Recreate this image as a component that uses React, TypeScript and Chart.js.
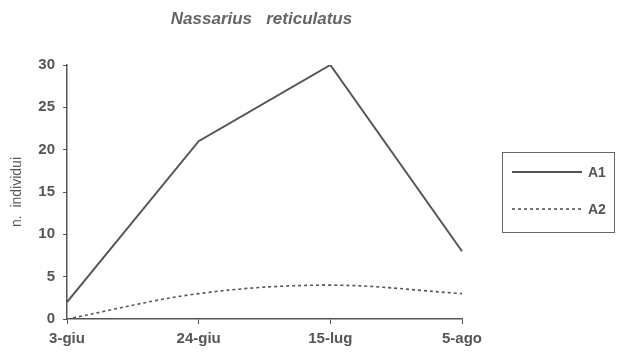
import React, { useEffect, useRef } from "react";
import { Chart, registerables } from "chart.js";

Chart.register(...registerables);

const categories = ["3-giu", "24-giu", "15-lug", "5-ago"];
const seriesA1 = [2, 21, 30, 8];
const seriesA2 = [0, 3, 4, 3];
const seriesNames = ["A1", "A2"];
const titleText = "Nassarius   reticulatus";
const yTitle = "n.  individui";

const INK = "#555";
const TEXT = "#555";
const FONT = "'Liberation Sans', Arial, sans-serif";

const customPlugin = {
  id: "customDecor",
  afterDraw(chart: any) {
    const ctx = chart.ctx;
    const area = chart.chartArea;
    ctx.save();
    // title
    ctx.fillStyle = "#666";
    ctx.font = `italic bold 17px ${FONT}`;
    ctx.textAlign = "center";
    ctx.textBaseline = "middle";
    ctx.fillText(titleText, (area.left + area.right) / 2 - 3, 19);
    // legend box
    const bx = 502, by = 152, bw = 112, bh = 80;
    ctx.strokeStyle = "#666";
    ctx.lineWidth = 1;
    ctx.strokeRect(bx + 0.5, by + 0.5, bw, bh);
    const rows = [172, 209];
    chart.data.datasets.forEach((ds: any, i: number) => {
      const y = rows[i];
      ctx.beginPath();
      ctx.strokeStyle = ds.borderColor;
      ctx.lineWidth = ds.borderWidth;
      ctx.setLineDash(ds.borderDash || []);
      ctx.moveTo(512, y);
      ctx.lineTo(582, y);
      ctx.stroke();
      ctx.setLineDash([]);
      ctx.fillStyle = TEXT;
      ctx.font = `bold 14px ${FONT}`;
      ctx.textAlign = "left";
      ctx.textBaseline = "middle";
      ctx.fillText(ds.label, 588, y + 1);
    });
    ctx.restore();
  },
};

export default function App() {
  const ref = useRef<HTMLCanvasElement>(null);
  useEffect(() => {
    if (!ref.current) return;
    const chart = new Chart(ref.current, {
      type: "line",
      data: {
        labels: categories,
        datasets: [
          {
            label: seriesNames[0],
            data: seriesA1,
            borderColor: INK,
            borderWidth: 2,
            pointRadius: 0,
            tension: 0,
            fill: false,
          },
          {
            label: seriesNames[1],
            data: seriesA2,
            borderColor: INK,
            borderWidth: 1.6,
            borderDash: [3, 3],
            pointRadius: 0,
            tension: 0.35,
            fill: false,
          },
        ],
      },
      options: {
        animation: false,
        responsive: false,
        maintainAspectRatio: false,
        layout: { padding: { top: 65, right: 156, left: 0, bottom: 0 } },
        plugins: {
          legend: { display: false },
          title: { display: false },
          tooltip: { enabled: false },
        },
        scales: {
          x: {
            type: "category",
            offset: false,
            afterFit(scale: any) {
              scale.height = 34;
            },
            grid: {
              drawOnChartArea: false,
              drawTicks: true,
              tickLength: 5,
              color: INK,
            },
            border: { display: true, color: INK, width: 1.5 },
            ticks: {
              color: TEXT,
              font: { family: FONT, size: 15, weight: "bold" },
              padding: 6,
              maxRotation: 0,
            },
          },
          y: {
            min: 0,
            max: 30,
            afterFit(scale: any) {
              scale.width = 67;
            },
            grid: {
              drawOnChartArea: false,
              drawTicks: true,
              tickLength: 4,
              color: INK,
            },
            border: { display: true, color: INK, width: 1.5 },
            ticks: {
              stepSize: 5,
              color: TEXT,
              font: { family: FONT, size: 15, weight: "bold" },
              padding: 8,
            },
            title: {
              display: true,
              text: yTitle,
              color: TEXT,
              font: { family: FONT, size: 14 },
              padding: { top: 9, bottom: 0 },
            },
          },
        },
      },
      plugins: [customPlugin],
    });
    return () => chart.destroy();
  }, []);
  return (
    <div style={{ position: "absolute", left: 0, top: 0, width: 618, height: 353, background: "#fff" }}>
      <canvas ref={ref} width={618} height={353} style={{ width: 618, height: 353 }} />
    </div>
  );
}
